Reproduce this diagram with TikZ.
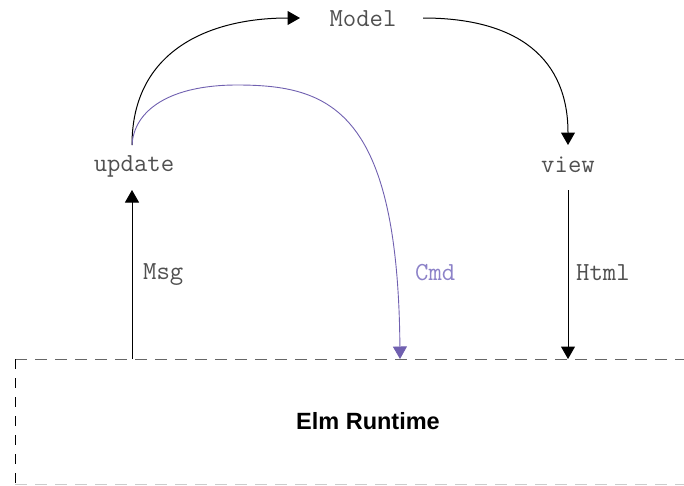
\documentclass[tikz,border=0pt]{standalone}
\usepackage{fontspec}
\setmainfont{Liberation Sans}
\usetikzlibrary{arrows.meta}
\definecolor{cmdline}{RGB}{112,96,176}
\definecolor{cmdtext}{RGB}{140,130,200}
\definecolor{labgray}{RGB}{80,80,80}
\tikzset{
  lab/.style={font=\ttfamily\fontsize{26}{30}\selectfont, text=labgray, inner sep=0pt},
  flow/.style={line width=1pt, -{Triangle[length=12.5pt,width=14pt]}},
  cmdflow/.style={line width=0.9pt, draw=cmdline, -{Triangle[length=12.5pt,width=14pt,fill=cmdline]}},
  rtedge/.style={line width=1pt, dash pattern=on 12pt off 8pt},
}
\begin{document}
\begin{tikzpicture}[x=1pt,y=-1pt]
\useasboundingbox (0,0) rectangle (684,485);
% labels
\node[lab, anchor=base] (model) at (363,26) {Model};
\node[lab, anchor=base] (update) at (134,171) {update};
\node[lab, anchor=base] (view) at (568,172) {view};
\node[lab, anchor=base west] (msg) at (143,279) {Msg};
\node[lab, anchor=base west, text=cmdtext] (cmd) at (415,280) {Cmd};
\node[lab, anchor=base west] (html) at (576,280) {Html};
\node[font=\bfseries\fontsize{23.5}{27}\selectfont, anchor=base] (runtime) at (368,429) {Elm Runtime};
% runtime box
\coordinate (rtTL) at (15,359);
\coordinate (rtTR) at (690,359);
\coordinate (rtBL) at (15,484);
\coordinate (rtBR) at (690,484);
\draw[rtedge, draw=black!60] (rtTL) -- (rtTR);
\draw[rtedge, draw=black, dash pattern=on 10pt off 9pt] (rtTL) -- (rtBL);
\draw[rtedge, draw=black!20] (rtBL) -- (rtBR);
% anchor points
\coordinate (updN) at (132,145);
\coordinate (updS) at (132,190);
\coordinate (modW) at (300,18);
\coordinate (modE) at (423,18);
\coordinate (viewN) at (568,145);
\coordinate (viewS) at (568,190);
\coordinate (rtMsg) at (132,359);
\coordinate (rtCmd) at (400,359);
\coordinate (rtHtml) at (568,359);
\coordinate (cmdPeak) at (237,85);
% connectors
\draw[flow] (updN) .. controls (132,50) and (210,18) .. (modW);
\draw[flow] (modE) .. controls (520,18) and (568,60) .. (viewN);
\draw[flow] (rtMsg) -- (updS);
\draw[flow] (viewS) -- (rtHtml);
\draw[cmdflow] (updN) .. controls (134,110) and (170,85) .. (cmdPeak)
  .. controls (330,85) and (398,110) .. (rtCmd);
\end{tikzpicture}
\end{document}
